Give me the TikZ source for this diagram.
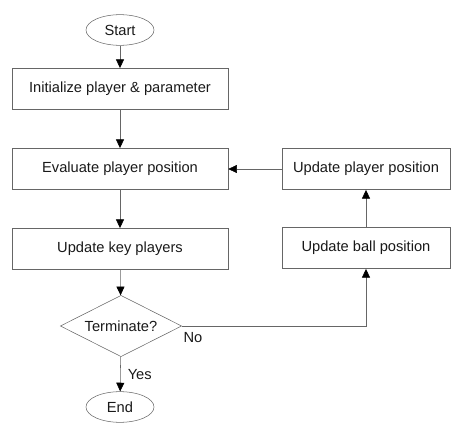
\documentclass[tikz,border=0pt]{standalone}
\usepackage{fontspec}
\setmainfont{Liberation Sans}
\usetikzlibrary{shapes.geometric,arrows.meta}

\begin{document}
\begin{tikzpicture}[x=0.75pt,y=-0.75pt,
  every node/.style={font=\fontsize{11}{13}\selectfont,text=black!90},
  stepbox/.style={draw=black!60,rectangle,inner sep=0pt,minimum width=162pt,minimum height=31pt},
  sidebox/.style={stepbox,minimum width=126pt},
  term/.style={draw=black!60,ellipse,inner sep=0pt,minimum width=51pt,minimum height=23pt},
  decide/.style={draw=black!60,diamond,aspect=2,inner sep=0pt,minimum width=91pt,minimum height=46pt},
  flow/.style={draw=black!60,-{Triangle[length=6.5pt,width=6pt,color=black]}}]
\useasboundingbox (0,0) rectangle (458,432);
% main column
\node[term] (start) at (120,30) {Start};
\node[stepbox] (init) at (120,89) {Initialize player \& parameter};
\node[stepbox] (eval) at (120,169) {Evaluate player position};
\node[stepbox] (keyp) at (120,249) {Update key players};
\node[decide] (stop) at (121,326) {Terminate?};
\node[term] (end) at (120,407) {End};
% side column
\node[sidebox] (uplay) at (366,169) {Update player position};
\node[sidebox] (ball) at (366,248) {Update ball position};

\draw[flow] (start) -- (init);
\draw[flow] (init) -- (eval);
\draw[flow] (eval) -- (keyp);
\draw[flow] (keyp) -- (stop);
\draw[flow] (stop) -- node[right=2pt] {Yes} (end);
\draw[flow] (stop.east) -| node[pos=0.03,below=1pt] {No} (ball);
\draw[flow] (ball) -- (uplay);
\draw[flow] (uplay) -- (eval);
\end{tikzpicture}
\end{document}
